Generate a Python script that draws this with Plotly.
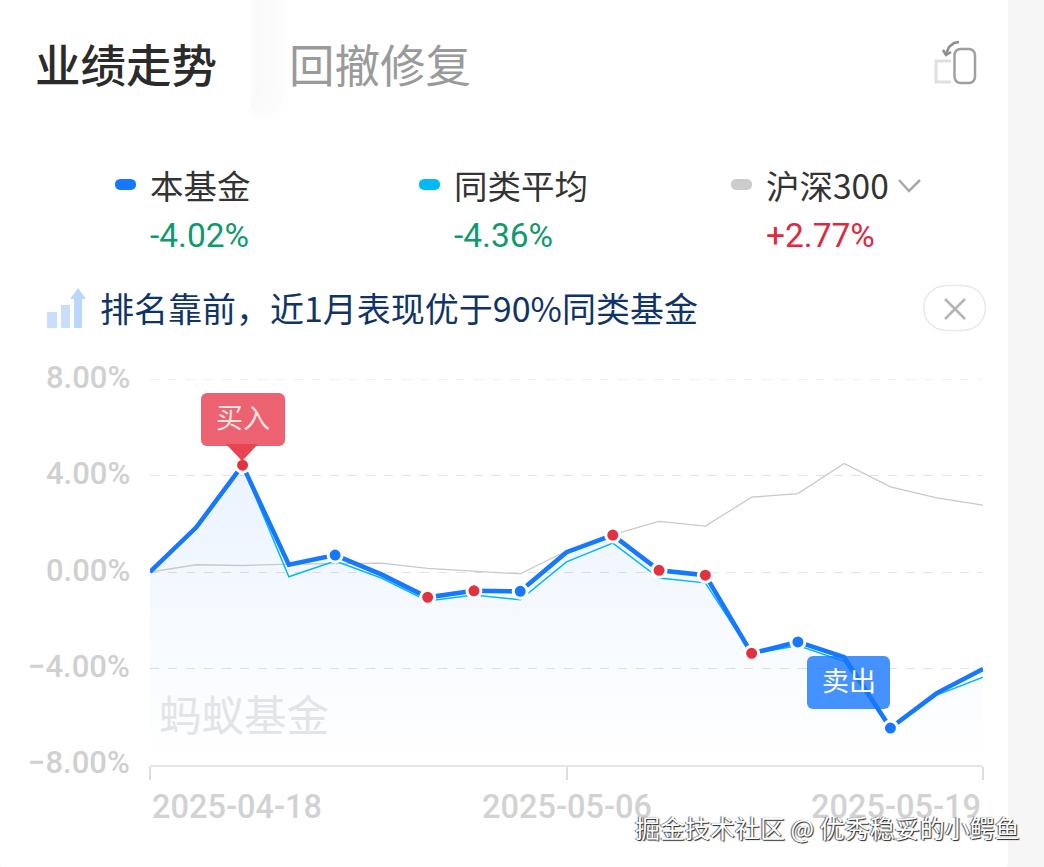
import plotly.graph_objects as go

W, H = 1044, 867

dates = ["2025-04-18", "2025-04-21", "2025-04-22", "2025-04-23", "2025-04-24", "2025-04-25",
         "2025-04-28", "2025-04-29", "2025-04-30", "2025-05-06", "2025-05-07", "2025-05-08",
         "2025-05-09", "2025-05-12", "2025-05-13", "2025-05-14", "2025-05-15", "2025-05-16",
         "2025-05-19"]
fund = [0.0, 1.85, 4.43, 0.3, 0.7, -0.1, -1.05, -0.78, -0.8, 0.82, 1.53, 0.07, -0.13, -3.37,
        -2.9, -3.53, -6.47, -5.02, -4.02]
peers = [0.0, 1.8, 4.4, -0.2, 0.45, -0.25, -1.2, -0.95, -1.15, 0.42, 1.2, -0.25, -0.45, -3.4,
         -3.05, -3.7, -6.5, -5.1, -4.36]
csi300 = [0.0, 0.3, 0.27, 0.33, 0.35, 0.37, 0.15, 0.02, -0.08, 0.87, 1.55, 2.1, 1.9, 3.1,
          3.25, 4.5, 3.53, 3.07, 2.77]
floor = [-8.0] * len(dates)
buy_dates = ["2025-04-22", "2025-04-28", "2025-04-29", "2025-05-07", "2025-05-08", "2025-05-09",
             "2025-05-12"]
sell_dates = ["2025-04-24", "2025-04-30", "2025-05-13", "2025-05-15"]
y_ticks = [8, 4, 0, -4, -8]
y_labels = ["8.00%", "4.00%", "0.00%", "−4.00%", "−8.00%"]
x_ticks = ["2025-04-18", "2025-05-06", "2025-05-19"]
legend_names = ["本基金", "同类平均", "沪深300"]
legend_values = ["-4.02%", "-4.36%", "+2.77%"]

BLUE = "#1677ff"
CYAN = "#00b9f5"
GREY = "#cccccc"
RED = "#e23241"
CJK = "Noto Sans CJK SC"
NUM = "Roboto"


# everything outside the plot is placed in screen pixels, margins are zero
def fx(x):
    return x / W


def fy(y):
    return 1 - y / H


def path(points, close=False):
    s = " ".join(("M" if i == 0 else "L") + f"{fx(x):.5f},{fy(y):.5f}" for i, (x, y) in enumerate(points))
    return s + (" Z" if close else "")


def rounded(x0, y0, x1, y1, r, corners=(1, 1, 1, 1)):
    # tl, tr, br, bl; corners are flattened to short chords through a few points
    k = [(0, 1), (0.076, 0.617), (0.293, 0.293), (0.617, 0.076), (1, 0)]
    pts = []
    rr = [r * c for c in corners]
    pts += [(x0 + rr[0] * a, y0 + rr[0] * b) for a, b in k]
    pts += [(x1 - rr[1] * b, y0 + rr[1] * a) for a, b in reversed([(b, a) for a, b in k])]
    pts += [(x1 - rr[2] * a, y1 - rr[2] * b) for a, b in k]
    pts += [(x0 + rr[3] * b, y1 - rr[3] * a) for a, b in reversed([(b, a) for a, b in k])]
    return path(pts, close=True)


shapes = []


def poly(d, fill=None, line=None, width=0, layer="above"):
    shapes.append(dict(type="path", xref="paper", yref="paper", path=d, layer=layer,
                       fillcolor=fill or "rgba(0,0,0,0)",
                       line=dict(color=line or "rgba(0,0,0,0)", width=width)))


texts = []


def text(x, y, s, size, color, anchor="left", font=CJK, weight=400, shadow=None):
    f = dict(family=font, size=size, color=color, weight=weight)
    if shadow:
        f["shadow"] = shadow
    texts.append(dict(xref="paper", yref="paper", x=fx(x), y=fy(y), text=s, showarrow=False,
                      xanchor=anchor, yanchor="middle", font=f, borderpad=0, borderwidth=0))


# card and tab, the tab's soft shadow is a few stacked pale shapes
poly(rounded(0, -40, 1008, H + 40, 44), fill="#ffffff", layer="below")
for right, bottom, c in [(292, 122, "#fefefe"), (284, 118, "#fcfcfc"), (274, 112, "#fbfbfb"),
                         (264, 106, "#fafafa")]:
    poly(rounded(240, -40, right, bottom, 24), fill=c, layer="below")
poly(rounded(0, -40, 252, 130, 34), fill="#ffffff", layer="below")

fig = go.Figure()
fig.add_trace(go.Scatter(x=dates, y=floor, mode="lines", line=dict(width=0), showlegend=False,
                         hoverinfo="skip"))
fig.add_trace(go.Scatter(x=dates, y=fund, mode="lines", line=dict(width=0), fill="tonexty",
                         fillgradient=dict(type="vertical",
                                           colorscale=[[0, "rgba(22,119,255,0.0)"],
                                                       [0.5, "rgba(22,119,255,0.04)"],
                                                       [1, "rgba(22,119,255,0.09)"]]),
                         showlegend=False, hoverinfo="skip"))
fig.add_trace(go.Scatter(x=dates, y=csi300, mode="lines", name="沪深300",
                         line=dict(color="#c9c9c9", width=1.3)))
fig.add_trace(go.Scatter(x=dates, y=peers, mode="lines", name="同类平均",
                         line=dict(color=CYAN, width=1.5)))
fig.add_trace(go.Scatter(x=dates, y=fund, mode="lines", name="本基金",
                         line=dict(color=BLUE, width=4.5)))
fig.add_trace(go.Scatter(x=buy_dates, y=[fund[dates.index(d)] for d in buy_dates], mode="markers",
                         name="买入", marker=dict(color=RED, size=14, line=dict(color="#ffffff", width=3))))
fig.add_trace(go.Scatter(x=sell_dates, y=[fund[dates.index(d)] for d in sell_dates], mode="markers",
                         name="卖出", marker=dict(color=BLUE, size=14, line=dict(color="#ffffff", width=3))))

# top gridline sits on the axis edge, plotly drops it there
shapes.append(dict(type="line", xref="paper", yref="y", x0=fx(150), x1=fx(983), y0=y_ticks[0], y1=y_ticks[0],
                   layer="below", line=dict(color="#e2e2e2", width=1.2, dash="dash")))

# tabs
text(35, 63, "业绩走势", 45.5, "#2b2b2b", weight=500)
text(289, 63, "回撤修复", 45.5, "#9a9a9a")

# flip icon
poly(rounded(954.5, 49, 975, 83, 6), line="#a0a0a0", width=2.5)
poly(path([(951, 61), (936, 61), (936, 82), (951, 82)]), line="#e0e0e0", width=3)
poly(path([(959, 42), (954, 43), (949, 47), (946, 54)]), line="#8d8d8d", width=2.5)
poly(path([(943, 50), (946, 55), (951, 52)]), line="#8d8d8d", width=2.5)

# legend header
for x, name, value, c, vc in zip([115, 419, 731], legend_names, legend_values, [BLUE, CYAN, GREY],
                                 ["#0f9a6d", "#0f9a6d", "#e0293f"]):
    poly(rounded(x, 179, x + 21, 190, 5), fill=c)
    text(x + 35, 184, name, 33.5, "#333333")
    text(x + 35, 235, value, 33.5, vc, font=NUM)
poly(path([(899, 180), (909, 191), (920, 180)]), line="#a8a8a8", width=2.5)

# ranking banner
poly(path([(47, 328), (47, 312), (57, 312), (57, 328)], True), fill="#c8defc")
poly(path([(61, 328), (61, 305), (70, 305), (70, 328)], True), fill="#c8defc")
poly(path([(74, 328), (74, 299), (70, 299), (78, 288), (86, 299), (82, 299), (82, 328)], True),
     fill="#bcd7fd")
text(100, 308, "排名靠前，近1月表现优于90%同类基金", 34, "#0f3468")
poly(rounded(923.5, 285.5, 985.5, 330.5, 22), fill="#ffffff", line="#e6ebe6", width=1.5)
poly(path([(945, 299), (965, 319)]), line="#b5b5b5", width=2.5)
poly(path([(965, 299), (945, 319)]), line="#b5b5b5", width=2.5)

# buy and sell tags
poly(rounded(201, 393, 285, 446, 6), fill="rgba(232,64,80,0.82)")
poly(path([(226, 444), (258, 444), (242, 461)], True), fill="#e8434f")
text(243, 416, "买入", 27, "#ffe3e3", anchor="center")
poly(rounded(807, 656, 890, 709, 6), fill="rgba(22,119,255,0.8)")
text(849, 679, "卖出", 27, "#ffffff", anchor="center")

# axis text
text(159, 712, "蚂蚁基金", 42.5, "#e2e4e8")
for v, s in zip(y_ticks, y_labels):
    text(130, 570 - v * 24.1, s, 31, "#d0d0d0", anchor="right", font=NUM, weight=500)
for d, a in zip(x_ticks, ["left", "center", "right"]):
    texts.append(dict(x=d, xref="x", y=fy(807), yref="paper", text=d, showarrow=False, xanchor=a,
                      yanchor="middle", font=dict(family=NUM, size=32.5, color="#d2d2d2", weight=500)))
text(1020, 827, "掘金技术社区 @ 优秀稳妥的小鳄鱼", 25, "#ffffff", anchor="right",
     shadow="1px 1px 1px #222222, -1px 0 1px #555555")

fig.update_layout(
    width=W, height=H, autosize=False,
    margin=dict(l=0, r=0, t=0, b=0),
    paper_bgcolor="#f6f6f6", plot_bgcolor="rgba(0,0,0,0)",
    showlegend=False, shapes=shapes, annotations=texts,
    xaxis=dict(type="category", domain=[fx(150), fx(983)], range=[0, len(dates) - 1],
               categoryorder="array", categoryarray=dates,
               tickvals=x_ticks, ticks="outside", ticklen=13, tickcolor="#dddddd", tickwidth=1.5,
               showticklabels=False, showgrid=False, zeroline=False,
               showline=True, linecolor="#e6e6e6", linewidth=1.5),
    yaxis=dict(domain=[fy(765), fy(379)], range=[-8, 8], tickvals=y_ticks, showticklabels=False,
               ticks="", gridcolor="#e2e2e2", griddash="dash", gridwidth=1.2, zeroline=False,
               showline=False),
)

fig.write_html("out.html", config={"displayModeBar": False},
               post_script="document.body.style.margin='0';document.body.style.overflow='hidden';")
